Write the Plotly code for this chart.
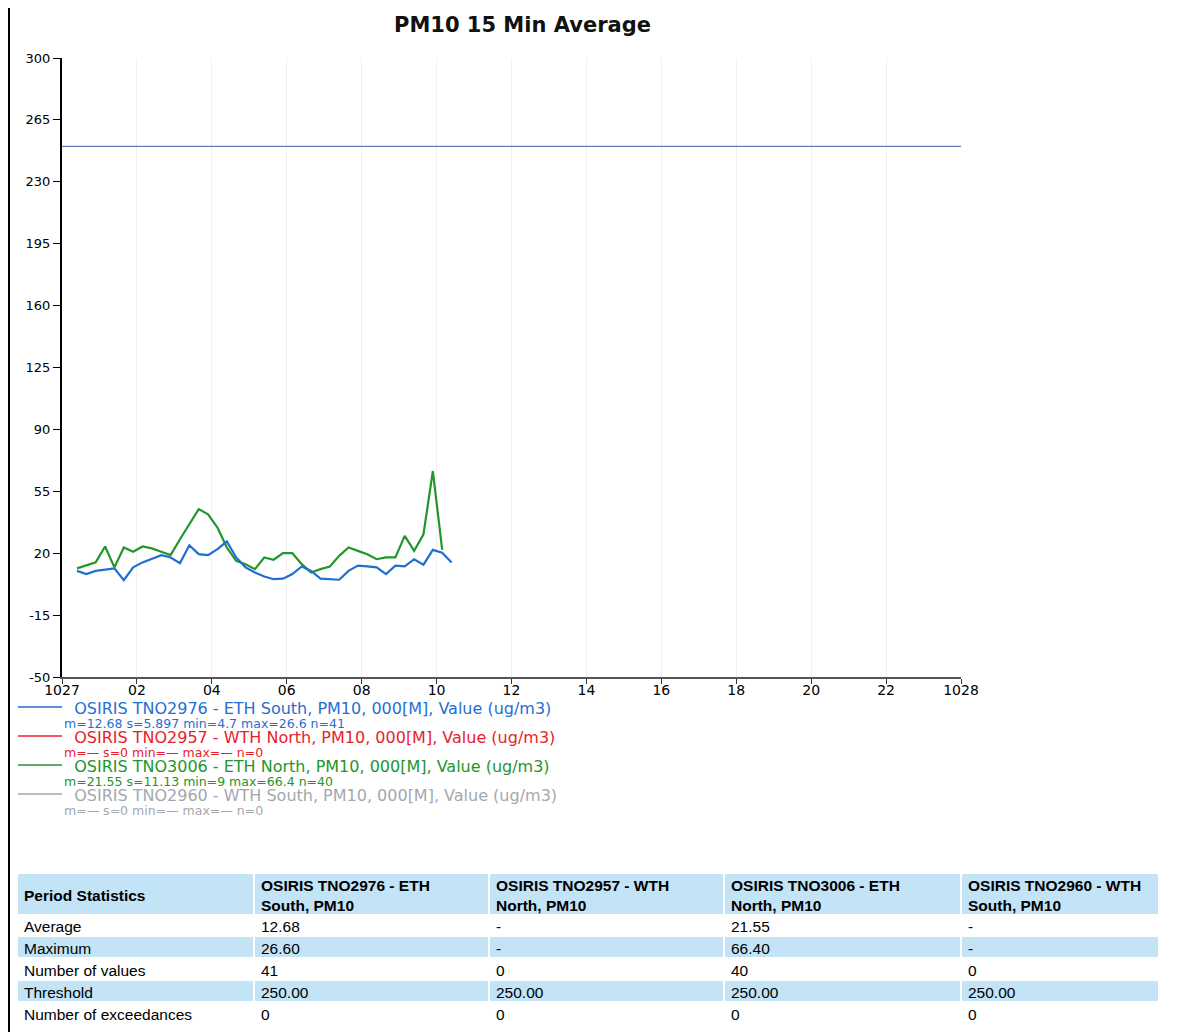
import plotly.graph_objects as go
import pandas as pd

# ---------------- data ----------------
blue_name = "OSIRIS TNO2976 - ETH South, PM10, 000[M], Value (ug/m3)"
red_name = "OSIRIS TNO2957 - WTH North, PM10, 000[M], Value (ug/m3)"
green_name = "OSIRIS TNO3006 - ETH North, PM10, 000[M], Value (ug/m3)"
grey_name = "OSIRIS TNO2960 - WTH South, PM10, 000[M], Value (ug/m3)"

blue_stats = "m=12.68 s=5.897 min=4.7 max=26.6 n=41"
red_stats = "m=— s=0 min=— max=— n=0"
green_stats = "m=21.55 s=11.13 min=9 max=66.4 n=40"
grey_stats = "m=— s=0 min=— max=— n=0"

blue_values = [10.0, 8.2, 10.0, 10.5, 11.4, 4.7, 12.0, 14.8, 17.0, 18.9, 17.6, 14.4, 24.5, 19.5,
               18.9, 22.3, 26.6, 17.6, 12.0, 9.1, 6.8, 5.3, 5.6, 8.2, 12.5, 10.0, 5.6, 5.3, 5.0,
               10.0, 13.0, 12.5, 12.0, 8.2, 13.0, 12.5, 16.6, 13.5, 21.9, 20.3, 14.8]
green_values = [11.4, 13.0, 14.8, 23.8, 12.0, 23.2, 20.8, 23.8, 22.7, 20.8, 18.9, 27.9, 36.4, 44.9,
                42.0, 34.5, 23.2, 15.7, 13.8, 11.0, 17.6, 16.3, 20.0, 20.0, 13.8, 9.1, 11.0, 12.5,
                18.5, 23.2, 21.3, 19.4, 16.6, 17.6, 17.6, 29.8, 21.3, 30.7, 66.4, 21.9]
blue_times = pd.date_range("2015-10-27 00:24", periods=len(blue_values), freq="15min")
green_times = pd.date_range("2015-10-27 00:24", periods=len(green_values), freq="15min")

threshold_times = ["2015-10-27 00:00", "2015-10-28 00:00"]
threshold_values = [250, 250]

x_tickvals = pd.date_range("2015-10-27 00:00", periods=13, freq="2h")
x_ticktext = ["1027", "02", "04", "06", "08", "10", "12", "14", "16", "18", "20", "22", "1028"]
y_tickvals = [-50, -15, 20, 55, 90, 125, 160, 195, 230, 265, 300]
y_ticktext = ["-50", "-15", "20", "55", "90", "125", "160", "195", "230", "265", "300"]

table_header = ["Period Statistics",
                "OSIRIS TNO2976 - ETH<br>South, PM10",
                "OSIRIS TNO2957 - WTH<br>North, PM10",
                "OSIRIS TNO3006 - ETH<br>North, PM10",
                "OSIRIS TNO2960 - WTH<br>South, PM10"]
row_labels = ["Average", "Maximum", "Number of values", "Threshold", "Number of exceedances"]
col_2976 = ["12.68", "26.60", "41", "250.00", "0"]
col_2957 = ["-", "-", "0", "250.00", "0"]
col_3006 = ["21.55", "66.40", "40", "250.00", "0"]
col_2960 = ["-", "-", "0", "250.00", "0"]

# ---------------- layout helpers ----------------
W, H = 1198, 1032
OFF = 8  # page body margin in the browser
PX_L, PX_R, PX_T, PX_B = 62, 961, 58, 677  # plot area in target pixels


def px(x):
    return (x - OFF) / W


def py(y):
    return (H - (y - OFF)) / H


BLUE = "#1f6fd2"
RED = "#e8222c"
GREEN = "#23962b"
GREY = "#a3a8ae"
THR = "#5f7fc0"
BAND = "#c3e3f7"
TFONT = "Liberation Sans, Arial, sans-serif"
CFONT = "DejaVu Sans, Verdana, sans-serif"

fig = go.Figure()

fig.add_trace(go.Scatter(x=threshold_times, y=threshold_values, mode="lines",
                         line=dict(color=THR, width=1.2), showlegend=False, hoverinfo="skip"))
fig.add_trace(go.Scatter(x=green_times, y=green_values, mode="lines",
                         line=dict(color=GREEN, width=2.2), name=green_name, showlegend=False))
fig.add_trace(go.Scatter(x=blue_times, y=blue_values, mode="lines",
                         line=dict(color=BLUE, width=2.2), name=blue_name, showlegend=False))

shapes = []
annotations = []

# left page border
shapes.append(dict(type="line", xref="paper", yref="paper", x0=px(9), x1=px(9), y0=0, y1=1,
                   line=dict(color="black", width=2)))

# title
annotations.append(dict(text="<b>PM10 15 Min Average</b>", xref="paper", yref="paper",
                        x=px(522), y=py(25), xanchor="center", yanchor="middle", showarrow=False,
                        font=dict(family=CFONT, size=21, color="#111111")))

# custom legend: a single multi-line text block (name + statistics per series)
legend_items = [(blue_name, blue_stats, BLUE, 707),
                (red_name, red_stats, RED, 736),
                (green_name, green_stats, GREEN, 765),
                (grey_name, grey_stats, GREY, 794)]
lines = []
for name, stats, col, yy in legend_items:
    shapes.append(dict(type="line", xref="paper", yref="paper", x0=px(18), x1=px(62),
                       y0=py(yy), y1=py(yy), line=dict(color=col, width=1.5)))
    lines.append('<span style="color:%s;font-size:16px">&nbsp;&nbsp;%s</span>' % (col, name))
    lines.append('<span style="color:%s;font-size:12.5px">%s</span>' % (col, stats))
annotations.append(dict(text="<br>".join(lines), xref="paper", yref="paper",
                        x=px(63), y=py(758), xanchor="left", yanchor="middle", align="left",
                        showarrow=False, borderpad=0,
                        font=dict(family=CFONT, size=11.15, color=BLUE)))

# statistics table (drawn manually)
col_x = [18, 255, 490, 725, 962, 1160]
head_top, head_bot = 874, 914
row_h = 22
columns = [row_labels, col_2976, col_2957, col_3006, col_2960]
for c in range(5):
    x0, x1 = col_x[c], col_x[c + 1] - 2
    shapes.append(dict(type="rect", xref="paper", yref="paper", x0=px(x0), x1=px(x1),
                       y0=py(head_bot), y1=py(head_top), fillcolor=BAND, line=dict(width=0),
                       layer="below"))
    annotations.append(dict(text="<b>%s</b>" % table_header[c], xref="paper", yref="paper",
                            x=px(x0 + 4), y=py((head_top + head_bot) / 2 + 1),
                            xanchor="left", yanchor="middle", align="left", showarrow=False,
                            font=dict(family=TFONT, size=15.5, color="black")))
    for r, val in enumerate(columns[c]):
        top = head_bot + r * row_h
        if r % 2 == 1:
            shapes.append(dict(type="rect", xref="paper", yref="paper", x0=px(x0), x1=px(x1),
                               y0=py(top + row_h - 1), y1=py(top + 1), fillcolor=BAND,
                               line=dict(width=0), layer="below"))
        annotations.append(dict(text=val, xref="paper", yref="paper",
                                x=px(x0 + 4), y=py(top + row_h / 2 + 1),
                                xanchor="left", yanchor="middle", showarrow=False,
                                font=dict(family=TFONT, size=15.5, color="black")))

fig.update_layout(
    width=W, height=H,
    margin=dict(l=0, r=0, t=0, b=0, pad=0, autoexpand=False),
    paper_bgcolor="white", plot_bgcolor="white",
    font=dict(family=CFONT, size=13, color="black"),
    showlegend=False,
    shapes=shapes,
    annotations=annotations,
    xaxis=dict(domain=[px(PX_L), px(PX_R)], type="date", automargin=False,
               range=["2015-10-27 00:00", "2015-10-28 00:00"],
               tickvals=x_tickvals, ticktext=x_ticktext,
               showgrid=True, gridcolor="#f0f0f0", gridwidth=1,
               showline=True, linecolor="#555555", linewidth=2,
               ticks="outside", ticklen=5, tickcolor="#333333", ticklabelstandoff=-6,
               tickfont=dict(family=CFONT, size=14, color="black"), zeroline=False),
    yaxis=dict(domain=[py(PX_B), py(PX_T)], range=[-50, 300], automargin=False,
               tickvals=y_tickvals, ticktext=y_ticktext, showgrid=False,
               showline=True, linecolor="black", linewidth=2,
               ticks="outside", ticklen=7, tickcolor="black",
               tickfont=dict(family=CFONT, size=13, color="black"), zeroline=False),
)

fig.write_html("out.html")
